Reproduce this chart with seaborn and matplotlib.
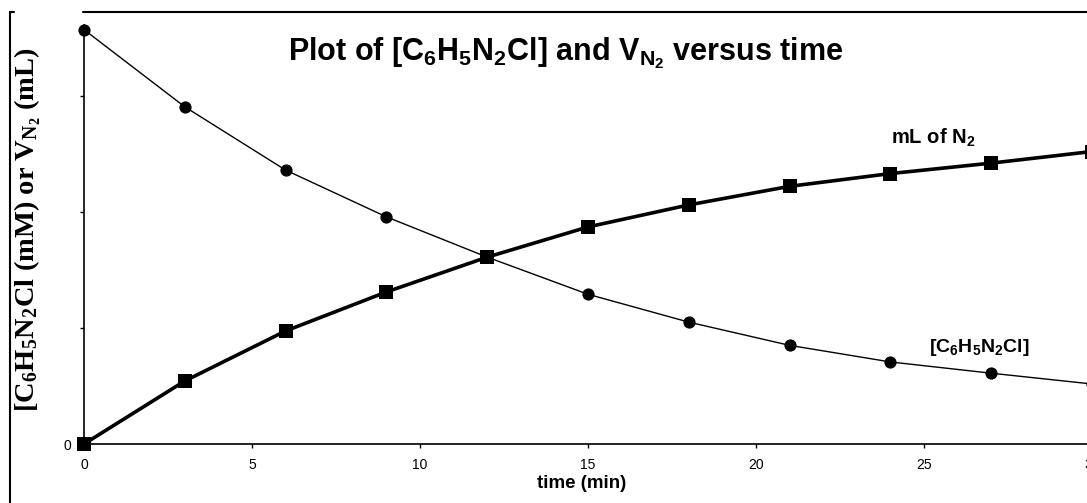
import matplotlib
matplotlib.use("Agg")
import matplotlib.pyplot as plt
from matplotlib.lines import Line2D
import seaborn as sns
import pandas as pd

# ---- data ----
time_min = [0, 3, 6, 9, 12, 15, 18, 21, 24, 27, 30]
conc_mM = [35.7, 29.05, 23.6, 19.57, 16.1, 12.9, 10.5, 8.5, 7.07, 6.1, 5.17]
vol_mL = [0, 5.43, 9.74, 13.1, 16.1, 18.7, 20.6, 22.2, 23.3, 24.2, 25.2]
x_ticks = [0, 5, 10, 15, 20, 25, 30]
y_ticks = [0, 10, 20, 30]
y_tick_labels = ["0", "", "", ""]

sns.set_style("white")
plt.rcParams["font.family"] = ["Liberation Sans", "DejaVu Sans"]
plt.rcParams["mathtext.default"] = "regular"
plt.rcParams["text.color"] = "black"
plt.rcParams["xtick.color"] = "black"
plt.rcParams["ytick.color"] = "black"
plt.rcParams["axes.labelcolor"] = "black"

W, H = 1087, 503
fig = plt.figure(figsize=(W / 100, H / 100), dpi=100)
ax = fig.add_axes([84 / W, (H - 444) / H, (1092 - 84) / W, (444 - 25) / H])

df = pd.DataFrame({"time": time_min, "conc": conc_mM, "vol": vol_mL})
sns.lineplot(data=df, x="time", y="conc", ax=ax, color="black", linewidth=1.0,
             marker="o", markersize=8.8, markeredgewidth=0, clip_on=False)
sns.lineplot(data=df, x="time", y="vol", ax=ax, color="black", linewidth=2.6,
             marker="s", markersize=9.4, markeredgewidth=0, clip_on=False)

ax.set_xlim(0, 30)
ax.set_ylim(0, 36.1)
ax.set_xticks(x_ticks)
ax.set_xticklabels([str(t) for t in x_ticks])
ax.set_yticks(y_ticks)
ax.set_yticklabels(y_tick_labels)
for s in ["top", "right"]:
    ax.spines[s].set_visible(False)
for s in ["left", "bottom"]:
    ax.spines[s].set_color("black")
    ax.spines[s].set_linewidth(1.2)
ax.tick_params(axis="both", direction="out", length=3, width=1, color="black",
               labelsize=10, labelcolor="black", bottom=True, left=True)
ax.tick_params(axis="x", pad=7)
ax.tick_params(axis="y", pad=6)
ax.set_xlabel("")
ax.set_ylabel("")

fig.text(582 / W, 1 - 484 / H, "time (min)", ha="center", va="center",
         fontsize=13.5, fontweight="bold")
fig.text(28 / W, 1 - 230 / H,
         r"[C$_6$H$_5$N$_2$Cl (mM) or V$_{N_2}$ (mL)", rotation=90,
         ha="center", va="center", fontsize=20.5, fontweight="bold",
         family=["Liberation Serif", "DejaVu Serif"])
fig.text(566 / W, 1 - 53 / H,
         r"Plot of [C$_6$H$_5$N$_2$Cl] and V$_{N_2}$ versus time",
         ha="center", va="center", fontsize=22, fontweight="bold")
fig.text(933 / W, 1 - 138 / H, r"mL of N$_2$", ha="center", va="center",
         fontsize=14.5, fontweight="bold")
fig.text(979 / W, 1 - 347 / H, r"[C$_6$H$_5$N$_2$Cl]", ha="center", va="center",
         fontsize=14, fontweight="bold")

# outer frame fragments
fig.add_artist(Line2D([9.5 / W, 9.5 / W], [1 - 12 / H, 0], transform=fig.transFigure,
                      color="black", linewidth=1.5))
fig.add_artist(Line2D([9.5 / W, 14 / W], [1 - 12 / H, 1 - 12 / H], transform=fig.transFigure,
                      color="black", linewidth=1.5))
fig.add_artist(Line2D([83 / W, 1], [1 - 12 / H, 1 - 12 / H], transform=fig.transFigure,
                      color="black", linewidth=1.5))

fig.savefig("out.png", dpi=100)
